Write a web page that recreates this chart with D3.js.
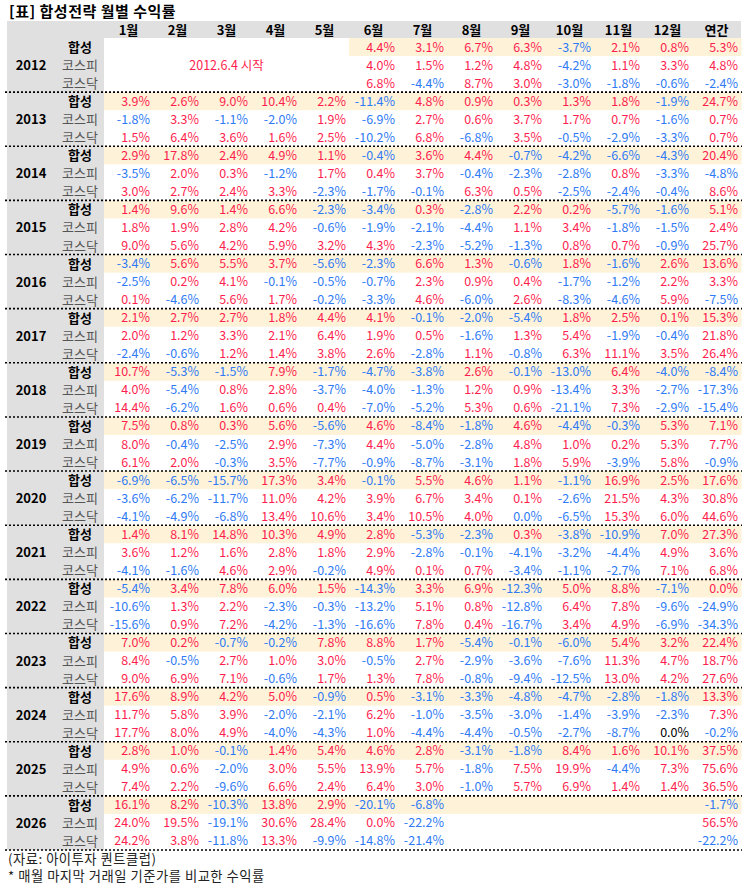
<!DOCTYPE html>
<html>
<head>
<meta charset="utf-8">
<script src="https://cdn.jsdelivr.net/npm/d3@7"></script>
<style>
  body { margin: 0; background: #fff; }
  svg text { font-family: "Noto Sans CJK KR", "Noto Sans", sans-serif; }
</style>
</head>
<body>
<script>
// Table data: monthly returns (%) per year, null = no data
const years = ["2012", "2013", "2014", "2015", "2016", "2017", "2018", "2019",
    "2020", "2021", "2022", "2023", "2024", "2025", "2026"];
const months = ["1월", "2월", "3월", "4월", "5월", "6월", "7월", "8월", "9월", "10월", "11월", "12월"];
const annualLabel = "연간";
const kinds = ["합성", "코스피", "코스닥"];

// 0.01 / -0.01 mark the "0.0%" cells that are shown red / blue; 0 is shown black
const hapseongMonthly = [
    [null, null, null, null, null, 4.4, 3.1, 6.7, 6.3, -3.7, 2.1, 0.8],
    [3.9, 2.6, 9.0, 10.4, 2.2, -11.4, 4.8, 0.9, 0.3, 1.3, 1.8, -1.9],
    [2.9, 17.8, 2.4, 4.9, 1.1, -0.4, 3.6, 4.4, -0.7, -4.2, -6.6, -4.3],
    [1.4, 9.6, 1.4, 6.6, -2.3, -3.4, 0.3, -2.8, 2.2, 0.2, -5.7, -1.6],
    [-3.4, 5.6, 5.5, 3.7, -5.6, -2.3, 6.6, 1.3, -0.6, 1.8, -1.6, 2.6],
    [2.1, 2.7, 2.7, 1.8, 4.4, 4.1, -0.1, -2.0, -5.4, 1.8, 2.5, 0.1],
    [10.7, -5.3, -1.5, 7.9, -1.7, -4.7, -3.8, 2.6, -0.1, -13.0, 6.4, -4.0],
    [7.5, 0.8, 0.3, 5.6, -5.6, 4.6, -8.4, -1.8, 4.6, -4.4, -0.3, 5.3],
    [-6.9, -6.5, -15.7, 17.3, 3.4, -0.1, 5.5, 4.6, 1.1, -1.1, 16.9, 2.5],
    [1.4, 8.1, 14.8, 10.3, 4.9, 2.8, -5.3, -2.3, 0.3, -3.8, -10.9, 7.0],
    [-5.4, 3.4, 7.8, 6.0, 1.5, -14.3, 3.3, 6.9, -12.3, 5.0, 8.8, -7.1],
    [7.0, 0.2, -0.7, -0.2, 7.8, 8.8, 1.7, -5.4, -0.1, -6.0, 5.4, 3.2],
    [17.6, 8.9, 4.2, 5.0, -0.9, 0.5, -3.1, -3.3, -4.8, -4.7, -2.8, -1.8],
    [2.8, 1.0, -0.1, 1.4, 5.4, 4.6, 2.8, -3.1, -1.8, 8.4, 1.6, 10.1],
    [16.1, 8.2, -10.3, 13.8, 2.9, -20.1, -6.8, null, null, null, null, null]
];
const kospiMonthly = [
    [null, null, null, null, null, 4.0, 1.5, 1.2, 4.8, -4.2, 1.1, 3.3],
    [-1.8, 3.3, -1.1, -2.0, 1.9, -6.9, 2.7, 0.6, 3.7, 1.7, 0.7, -1.6],
    [-3.5, 2.0, 0.3, -1.2, 1.7, 0.4, 3.7, -0.4, -2.3, -2.8, 0.8, -3.3],
    [1.8, 1.9, 2.8, 4.2, -0.6, -1.9, -2.1, -4.4, 1.1, 3.4, -1.8, -1.5],
    [-2.5, 0.2, 4.1, -0.1, -0.5, -0.7, 2.3, 0.9, 0.4, -1.7, -1.2, 2.2],
    [2.0, 1.2, 3.3, 2.1, 6.4, 1.9, 0.5, -1.6, 1.3, 5.4, -1.9, -0.4],
    [4.0, -5.4, 0.8, 2.8, -3.7, -4.0, -1.3, 1.2, 0.9, -13.4, 3.3, -2.7],
    [8.0, -0.4, -2.5, 2.9, -7.3, 4.4, -5.0, -2.8, 4.8, 1.0, 0.2, 5.3],
    [-3.6, -6.2, -11.7, 11.0, 4.2, 3.9, 6.7, 3.4, 0.1, -2.6, 21.5, 4.3],
    [3.6, 1.2, 1.6, 2.8, 1.8, 2.9, -2.8, -0.1, -4.1, -3.2, -4.4, 4.9],
    [-10.6, 1.3, 2.2, -2.3, -0.3, -13.2, 5.1, 0.8, -12.8, 6.4, 7.8, -9.6],
    [8.4, -0.5, 2.7, 1.0, 3.0, -0.5, 2.7, -2.9, -3.6, -7.6, 11.3, 4.7],
    [11.7, 5.8, 3.9, -2.0, -2.1, 6.2, -1.0, -3.5, -3.0, -1.4, -3.9, -2.3],
    [4.9, 0.6, -2.0, 3.0, 5.5, 13.9, 5.7, -1.8, 7.5, 19.9, -4.4, 7.3],
    [24.0, 19.5, -19.1, 30.6, 28.4, 0.01, -22.2, null, null, null, null, null]
];
const kosdaqMonthly = [
    [null, null, null, null, null, 6.8, -4.4, 8.7, 3.0, -3.0, -1.8, -0.6],
    [1.5, 6.4, 3.6, 1.6, 2.5, -10.2, 6.8, -6.8, 3.5, -0.5, -2.9, -3.3],
    [3.0, 2.7, 2.4, 3.3, -2.3, -1.7, -0.1, 6.3, 0.5, -2.5, -2.4, -0.4],
    [9.0, 5.6, 4.2, 5.9, 3.2, 4.3, -2.3, -5.2, -1.3, 0.8, 0.7, -0.9],
    [0.1, -4.6, 5.6, 1.7, -0.2, -3.3, 4.6, -6.0, 2.6, -8.3, -4.6, 5.9],
    [-2.4, -0.6, 1.2, 1.4, 3.8, 2.6, -2.8, 1.1, -0.8, 6.3, 11.1, 3.5],
    [14.4, -6.2, 1.6, 0.6, 0.4, -7.0, -5.2, 5.3, 0.6, -21.1, 7.3, -2.9],
    [6.1, 2.0, -0.3, 3.5, -7.7, -0.9, -8.7, -3.1, 1.8, 5.9, -3.9, 5.8],
    [-4.1, -4.9, -6.8, 13.4, 10.6, 3.4, 10.5, 4.0, -0.01, -6.5, 15.3, 6.0],
    [-4.1, -1.6, 4.6, 2.9, -0.2, 4.9, 0.1, 0.7, -3.4, -1.1, -2.7, 7.1],
    [-15.6, 0.9, 7.2, -4.2, -1.3, -16.6, 7.8, 0.4, -16.7, 3.4, 4.9, -6.9],
    [9.0, 6.9, 7.1, -0.6, 1.7, 1.3, 7.8, -0.8, -9.4, -12.5, 13.0, 4.2],
    [17.7, 8.0, 4.9, -4.0, -4.3, 1.0, -4.4, -4.4, -0.5, -2.7, -8.7, 0],
    [7.4, 2.2, -9.6, 6.6, 2.4, 6.4, 3.0, -1.0, 5.7, 6.9, 1.4, 1.4],
    [24.2, 3.8, -11.8, 13.3, -9.9, -14.8, -21.4, null, null, null, null, null]
];
const hapseongAnnual = [5.3, 24.7, 20.4, 5.1, 13.6, 15.3, -8.4, 7.1, 17.6, 27.3, 0.01, 22.4, 13.3, 37.5, -1.7];
const kospiAnnual = [4.8, 0.7, -4.8, 2.4, 3.3, 21.8, -17.3, 7.7, 30.8, 3.6, -24.9, 18.7, 7.3, 75.6, 56.5];
const kosdaqAnnual = [-2.4, 0.7, 8.6, 25.7, -7.5, 26.4, -15.4, -0.9, 44.6, 6.8, -34.3, 27.6, -0.2, 36.5, -22.2];

const title = "[표] 합성전략 월별 수익률";
const startNote = "2012.6.4 시작";
const sourceNote = "(자료: 아이투자 퀀트클럽)";
const footNote = "* 매월 마지막 거래일 기준가를 비교한 수익률";

const RED = "#ff1f4f", BLUE = "#2f7bf5", GRAY_BG = "#e0e0e0", YELLOW_BG = "#fef2d8";

var width = 746, height = 888;
var columns = months.concat([annualLabel]);
var seriesMonthly = [hapseongMonthly, kospiMonthly, kosdaqMonthly];
var seriesAnnual = [hapseongAnnual, kospiAnnual, kosdaqAnnual];

// one row per year x kind
var rowKeys = [];
years.forEach(function(yr) { kinds.forEach(function(k) { rowKeys.push(yr + "|" + k); }); });

var x = d3.scaleBand().domain(columns).range([104, 741]);
var y = d3.scaleBand().domain(rowKeys).range([38, 850]);
var yYear = d3.scaleBand().domain(years).range([38, 850]);

// text baseline offset from a row's middle (no dominant-baseline, CJK font sits low with it)
var base = 4.5;

var cells = [];
years.forEach(function(yr, yi) {
    kinds.forEach(function(k, ki) {
        columns.forEach(function(c, ci) {
            var v = ci < 12 ? seriesMonthly[ki][yi][ci] : seriesAnnual[ki][yi];
            cells.push({ year: yr, kind: k, col: c, value: v });
        });
    });
});

function fmt(v) {
    if (Math.abs(v) < 0.05) return "0.0%";
    return v.toFixed(1) + "%";
}
function colorOf(v) {
    if (v > 0) return RED;
    if (v < 0) return BLUE;
    return "#000";
}
function rowMid(d) { return y(d.year + "|" + d.kind) + y.bandwidth() / 2; }

var svg = d3.select("body").append("svg")
    .attr("width", width)
    .attr("height", height);

// title
svg.append("text")
    .attr("x", 9).attr("y", 16.5)
    .attr("font-size", 15).attr("font-weight", "bold")
    .attr("letter-spacing", 0.5)
    .text(title);

// header background and left label column
svg.append("rect")
    .attr("x", 7).attr("y", 21)
    .attr("width", x.range()[1] - 7).attr("height", y.range()[0] - 21)
    .attr("fill", GRAY_BG);
svg.append("rect")
    .attr("x", 7).attr("y", y.range()[0])
    .attr("width", x.range()[0] - 7).attr("height", y.range()[1] - y.range()[0])
    .attr("fill", GRAY_BG);

// yellow band on the 합성 rows (2012 only where values exist)
svg.selectAll(".band")
    .data(cells.filter(function(d) { return d.kind === kinds[0] && (d.value !== null || d.year !== years[0]); }))
    .enter().append("rect")
    .attr("class", "band")
    .attr("x", function(d) { return x(d.col); })
    .attr("y", function(d) { return y(d.year + "|" + d.kind); })
    .attr("width", x.bandwidth() + 0.5)
    .attr("height", y.bandwidth())
    .attr("fill", YELLOW_BG);

// column headers
svg.selectAll(".colhead")
    .data(columns)
    .enter().append("text")
    .attr("class", "colhead")
    .attr("x", function(d) { return x(d) + x.bandwidth() / 2; })
    .attr("y", (21 + y.range()[0]) / 2 + 5)
    .attr("text-anchor", "middle")
    .attr("font-size", 13).attr("font-weight", "bold")
    .text(function(d) { return d; });

// year labels
svg.selectAll(".yearlab")
    .data(years)
    .enter().append("text")
    .attr("class", "yearlab")
    .attr("x", 31)
    .attr("y", function(d) { return yYear(d) + yYear.bandwidth() / 2 + 5; })
    .attr("text-anchor", "middle")
    .attr("font-size", 13).attr("font-weight", "bold")
    .text(function(d) { return d; });

// kind labels
svg.selectAll(".kindlab")
    .data(rowKeys)
    .enter().append("text")
    .attr("class", "kindlab")
    .attr("x", 80)
    .attr("y", function(d) { return y(d) + y.bandwidth() / 2 + 5; })
    .attr("text-anchor", "middle")
    .attr("font-size", 13)
    .attr("font-weight", function(d) { return d.split("|")[1] === kinds[0] ? "bold" : "normal"; })
    .attr("fill", function(d) { return d.split("|")[1] === kinds[0] ? "#000" : "#555"; })
    .text(function(d) { return d.split("|")[1]; });

// values
svg.selectAll(".val")
    .data(cells.filter(function(d) { return d.value !== null; }))
    .enter().append("text")
    .attr("class", "val")
    .attr("x", function(d) { return x(d.col) + x.bandwidth() - 3; })
    .attr("y", function(d) { return rowMid(d) + base; })
    .attr("text-anchor", "end")
    .attr("font-size", 12.5)
    .attr("fill", function(d) { return colorOf(d.value); })
    .text(function(d) { return fmt(d.value); });

// 2012 start note over the empty months
svg.append("text")
    .attr("x", (x(months[0]) + x(months[4]) + x.bandwidth()) / 2)
    .attr("y", y(years[0] + "|" + kinds[1]) + y.bandwidth() / 2 + base)
    .attr("text-anchor", "middle")
    .attr("font-size", 12.5)
    .attr("fill", RED)
    .text(startNote);

// dotted separators under each year
svg.selectAll(".sep")
    .data(years)
    .enter().append("line")
    .attr("class", "sep")
    .attr("x1", 5).attr("x2", x.range()[1] + 1)
    .attr("y1", function(d) { return yYear(d) + yYear.bandwidth(); })
    .attr("y2", function(d) { return yYear(d) + yYear.bandwidth(); })
    .attr("stroke", "#000")
    .attr("stroke-width", 1.6)
    .attr("stroke-dasharray", "2,2");

// footnotes
svg.append("text")
    .attr("x", 8).attr("y", 863.5)
    .attr("font-size", 13.3).attr("fill", "#222")
    .attr("letter-spacing", 0.5)
    .text(sourceNote);
svg.append("text")
    .attr("x", 8).attr("y", 881)
    .attr("font-size", 13.3).attr("fill", "#222")
    .attr("letter-spacing", 0.5)
    .text(footNote);
</script>
</body>
</html>
